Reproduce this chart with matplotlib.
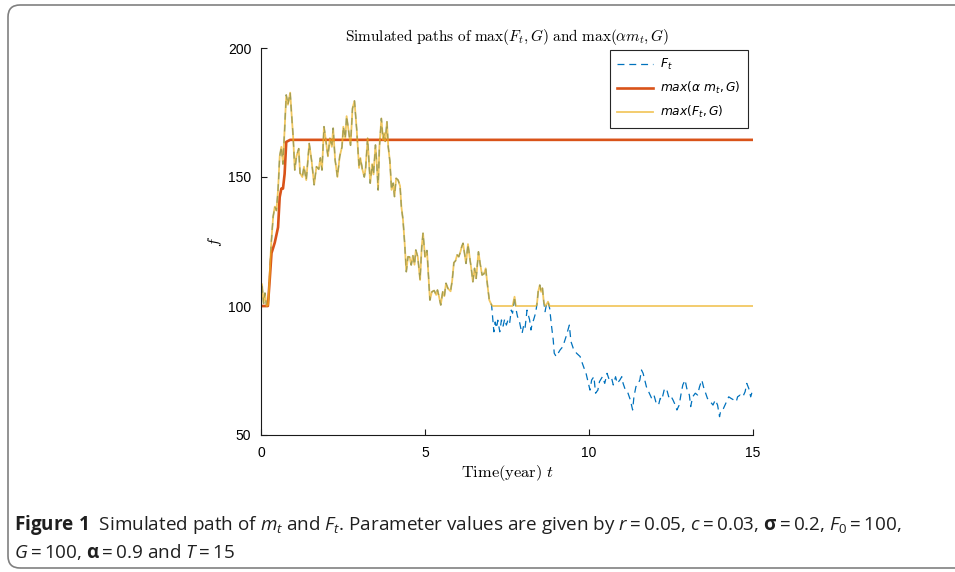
import numpy as np
import matplotlib
matplotlib.use('Agg')
import matplotlib.pyplot as plt
from matplotlib.patches import FancyBboxPatch
from matplotlib.transforms import IdentityTransform

# simulated path F_t (time in years, value)
t_F = [0, 0.03, 0.08, 0.12, 0.17, 0.22, 0.26, 0.31, 0.37, 0.42, 0.47, 0.52, 0.57, 0.62, 0.67,
       0.72, 0.77, 0.82, 0.89, 0.93, 0.98, 1.03, 1.08, 1.15, 1.19, 1.26, 1.31, 1.38, 1.47, 1.54,
       1.62, 1.69, 1.76, 1.81, 1.86, 1.92, 1.97, 2.04, 2.10, 2.16, 2.20, 2.26, 2.33, 2.40, 2.47,
       2.51, 2.57, 2.61, 2.67, 2.73, 2.79, 2.85, 2.92, 2.95, 2.99, 3.03, 3.09, 3.15, 3.19, 3.25,
       3.29, 3.33, 3.39, 3.43, 3.49, 3.53, 3.57, 3.61, 3.67, 3.72, 3.76, 3.79, 3.84, 3.88, 3.93,
       3.98, 4.03, 4.07, 4.12, 4.18, 4.24, 4.28, 4.33, 4.38, 4.43, 4.48, 4.53, 4.58, 4.63, 4.68,
       4.72, 4.78, 4.85, 4.90, 4.94, 5.00, 5.06, 5.10, 5.15, 5.21, 5.28, 5.34, 5.38, 5.43, 5.48,
       5.54, 5.59, 5.64, 5.70, 5.78, 5.83, 5.88, 5.93, 5.98, 6.03, 6.08, 6.12, 6.16, 6.21, 6.25,
       6.31, 6.36, 6.41, 6.46, 6.51, 6.56, 6.63, 6.68, 6.74, 6.80, 6.85, 6.91, 6.96, 7.03, 7.06,
       7.10, 7.14, 7.18, 7.22, 7.28, 7.33, 7.38, 7.43, 7.48, 7.53, 7.58, 7.63, 7.67, 7.73, 7.77,
       7.82, 7.87, 7.92, 7.96, 8.01, 8.05, 8.11, 8.15, 8.19, 8.23, 8.27, 8.31, 8.37, 8.41, 8.45,
       8.50, 8.54, 8.58, 8.62, 8.66, 8.70, 8.75, 8.80, 8.86, 8.91, 8.94, 9.00, 9.12, 9.20, 9.30,
       9.40, 9.45, 9.52, 9.62, 9.73, 9.78, 9.85, 9.91, 9.98, 10.03, 10.08, 10.15, 10.20, 10.27, 10.32,
       10.41, 10.48, 10.55, 10.62, 10.69, 10.74, 10.81, 10.86, 10.94, 11.00, 11.04, 11.11, 11.19, 11.26, 11.33,
       11.37, 11.43, 11.50, 11.55, 11.60, 11.65, 11.70, 11.75, 11.84, 11.91, 11.98, 12.05, 12.12, 12.17, 12.22,
       12.29, 12.36, 12.43, 12.48, 12.56, 12.63, 12.68, 12.75, 12.81, 12.86, 12.93, 12.98, 13.06, 13.10, 13.16,
       13.24, 13.31, 13.37, 13.44, 13.49, 13.54, 13.61, 13.70, 13.78, 13.85, 13.92, 13.98, 14.02, 14.10, 14.17,
       14.26, 14.33, 14.41, 14.49, 14.53, 14.61, 14.69, 14.76, 14.81, 14.87, 14.93, 15.00]
F = [100, 108.5, 101, 105, 100, 100.5, 111, 124, 134.6, 138.5, 137, 145, 158, 161.7, 155,
     168, 181.8, 178, 182.7, 174.8, 165.6, 152.7, 158, 161, 151.5, 150, 154, 148.8, 163, 156.6,
     147, 154, 153, 157.4, 152.7, 169.5, 165, 158, 165, 161.7, 168.9, 156.6, 150, 158, 161.7,
     169.5, 165, 173.6, 168, 162.3, 176.6, 179.5, 168, 161.7, 153.5, 157.4, 153, 150, 153.5, 165,
     156.6, 147.6, 155, 151, 162.4, 155.4, 145, 161.7, 172.7, 164.4, 167, 163.8, 171.4, 161.7, 156,
     145, 147.6, 142.4, 149.5, 148.8, 146.5, 138.5, 133.3, 124.3, 113.3, 119.1, 119, 115.9, 119.5, 116,
     121.7, 119, 110.1, 122.9, 128.2, 119, 121.5, 112.7, 102.3, 105.5, 106, 104.3, 106.2, 103.5, 100.4,
     105.5, 103.8, 108.8, 106.8, 105.7, 110, 116.8, 117.5, 119.8, 119.1, 121, 123, 124.3, 119.8, 116.5,
     124, 119.1, 114.6, 109.4, 114.6, 110.7, 121, 116.5, 112, 112.5, 114.6, 107.5, 102.3, 100.4, 95.9,
     90, 93.8, 91.4, 94.5, 90, 94.6, 92.2, 95, 92.6, 94.6, 93.3, 98.4, 97.2, 103.6, 99.1,
     95.9, 94.6, 91.4, 89.4, 92.6, 91.4, 98.4, 96.5, 94.6, 90.7, 93.3, 94.6, 97.2, 100.4, 105.5,
     108.1, 105.5, 106.9, 101.7, 97.8, 100.4, 101.7, 99.1, 92, 86.8, 81.7, 80.4, 83, 84.2, 88.1,
     92.6, 86.2, 83.6, 81.7, 80.4, 78.4, 75.9, 73.9, 70, 67.4, 71.3, 72.6, 66.2, 67.4, 70.7,
     72.6, 70, 73.9, 71.3, 72, 69.4, 72.6, 70, 71.3, 72.6, 70, 67.4, 66.2, 63.6, 59.7,
     64.8, 68.7, 70, 71.3, 75.2, 73.9, 71.3, 68.7, 66.2, 64.2, 65.5, 62.3, 61.6, 64.2, 63.6,
     67.4, 68.1, 64.8, 65.5, 63.6, 61.6, 59.7, 61.6, 66.2, 69.4, 71.3, 68.1, 65.5, 61, 64.8,
     66.2, 65.5, 68.7, 71.3, 68.7, 66.8, 64.2, 62.9, 61.6, 63.6, 61.6, 57.1, 59.7, 60.3, 62.3,
     64.8, 64.2, 63.6, 62.9, 64.8, 65.5, 64.8, 66.8, 70, 68.1, 64.8, 68]

# max(alpha m_t, G)
t_m = [0, 0.21, 0.27, 0.32, 0.37, 0.42, 0.52, 0.57, 0.62, 0.67, 0.72, 0.77, 0.89, 15]
alpha_m = [100, 100, 111, 120.5, 122.5, 124.6, 130.5, 142.2, 145.5, 145.5, 151.2, 163.6, 164.4, 164.4]

G = 100
x_ticks = [0, 5, 10, 15]
y_ticks = [50, 100, 150, 200]

plt.rcParams['mathtext.fontset'] = 'cm'
plt.rcParams['mathtext.rm'] = 'Open Sans'
plt.rcParams['mathtext.it'] = 'Open Sans:italic'
plt.rcParams['mathtext.bf'] = 'Open Sans:bold'
plt.rcParams['lines.scale_dashes'] = False

fig = plt.figure(figsize=(9.55, 5.72), dpi=100)
ax = fig.add_axes([261/955, 137/572, 492/955, 387/572])

blue = '#0072BD'
red = '#D95319'
yellow = '#EDB120'

ax.plot(t_F, F, color=blue, lw=0.9, dashes=(5, 3.5), label=r'$F_t$')
ax.plot(t_m, alpha_m, color=red, lw=1.9, label=r'$max(\alpha\ m_t,G)$')
ax.plot(t_F, np.maximum(F, G), color=yellow, lw=1.3, alpha=0.7, label=r'$max(F_t,G)$')

ax.set_xlim(0, 15)
ax.set_ylim(50, 200)
ax.set_xticks(x_ticks)
ax.set_yticks(y_ticks)
for s in ['top', 'right']:
    ax.spines[s].set_visible(False)
for s in ['left', 'bottom']:
    ax.spines[s].set_color('0.1')
    ax.spines[s].set_linewidth(0.8)
ax.tick_params(direction='in', length=4, width=0.8, color='0.1', labelsize=10)
ax.tick_params(axis='x', pad=8)
ax.tick_params(axis='y', pad=7)
for lab in ax.get_xticklabels() + ax.get_yticklabels():
    lab.set_family('Liberation Sans')

ax.set_title(r'$\mathrm{Simulated\ paths\ of\ }\max(F_t,G)\mathrm{\ and\ }\max(\alpha m_t,G)$',
             fontsize=11, pad=5)
ax.set_xlabel(r'$\mathrm{Time(year)}\ t$', fontsize=11.8, labelpad=2)
ax.set_ylabel(r'$f$', fontsize=11.5, labelpad=3)

leg = ax.legend(loc='upper right', bbox_to_anchor=(0.99, 0.995), borderaxespad=0,
                fancybox=False, framealpha=1, edgecolor='0.15', fontsize=8.8,
                handlelength=2.9, labelspacing=0.65, handletextpad=0.6, borderpad=0.6)
leg.get_frame().set_linewidth(0.8)
for txt in leg.get_texts():
    txt.set_math_fontfamily('dejavusans')

# caption and frame
fig.text(14/955, 1 - 530/572,
         r'$\mathbf{Figure\ 1}$  Simulated path of $m_t$ and $F_t$. Parameter values are given by '
         r'$r = 0.05$, $c = 0.03$, $\mathbf{\sigma} = 0.2$, $F_0 = 100$,',
         fontsize=13.6, family='Open Sans', math_fontfamily='custom', color='0.12')
fig.text(14/955, 1 - 558/572,
         r'$G = 100$, $\mathbf{\alpha} = 0.9$ and $T = 15$',
         fontsize=13.6, family='Open Sans', math_fontfamily='custom', color='0.12')

frame = FancyBboxPatch((8, 4), 1000, 563, boxstyle='round,pad=0,rounding_size=12',
                       transform=IdentityTransform(), fill=False, edgecolor='0.5', lw=1.2)
fig.patches.append(frame)

fig.savefig('out.png', dpi=100)
